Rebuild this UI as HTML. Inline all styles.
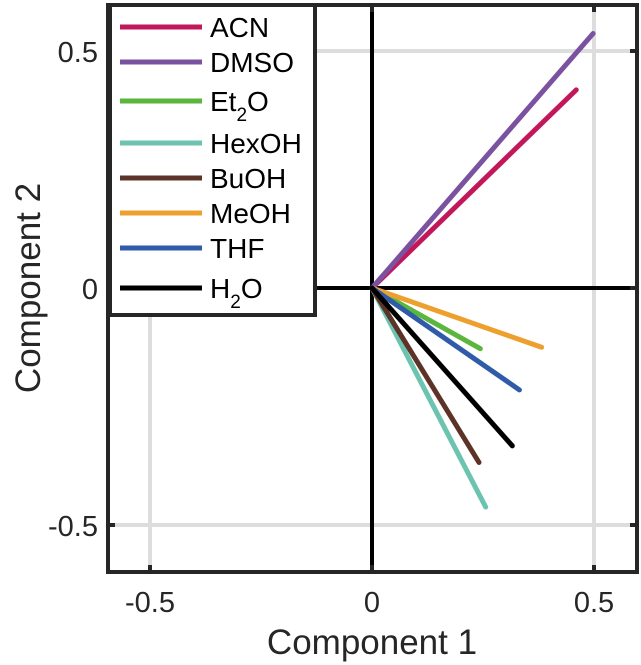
<!DOCTYPE html>
<html><head><meta charset="utf-8"><style>
body{margin:0;background:#fff;}
svg{display:block;font-family:"Liberation Sans",sans-serif;}
</style></head><body>
<svg width="641" height="665">
<script>
const names=["ACN","DMSO","Et2O","HexOH","BuOH","MeOH","THF","H2O"];
const xVals=[0.46,0.498,0.244,0.256,0.241,0.382,0.332,0.316];
const yVals=[0.418,0.537,-0.128,-0.462,-0.368,-0.125,-0.215,-0.333];
const colors=["#c2185b","#7b52a0","#5ab63c","#6cc3b0","#5d3328","#eea02e","#2f5ba8","#000000"];
const xTicks=[-0.5,0,0.5];
const yTicks=[-0.5,0,0.5];
</script>
<g id="plot"></g>
<script>
const NS="http://www.w3.org/2000/svg";
const L=108,R=637,T=5,B=572;
const X=v=>372+v*444;
const Y=v=>288-v*474;
const g=document.getElementById('plot');
function mk(t,a,p){const e=document.createElementNS(NS,t);for(const k in a)e.setAttribute(k,a[k]);(p||g).appendChild(e);return e;}
xTicks.forEach(t=>{if(t!==0){const e=mk('line',{x1:X(t),x2:X(t),y1:T,y2:B,stroke:'#ddd','stroke-width':4});

}});
yTicks.forEach(t=>{if(t!==0){const e=mk('line',{x1:L,x2:R,y1:Y(t),y2:Y(t),stroke:'#ddd','stroke-width':4});

}});
let z=mk('line',{x1:X(0),x2:X(0),y1:T,y2:B,stroke:'#000','stroke-width':4});


z=mk('line',{x1:L,x2:R,y1:Y(0),y2:Y(0),stroke:'#000','stroke-width':4});


names.forEach((n,i)=>{const e=mk('line',{x1:X(0),y1:Y(0),x2:X(xVals[i]),y2:Y(yVals[i]),stroke:colors[i],'stroke-width':5,'stroke-linecap':'round'});

});
let f=mk('rect',{x:L,y:T,width:R-L,height:B-T,fill:'none',stroke:'#262626','stroke-width':4});


xTicks.forEach(t=>{mk('line',{x1:X(t),x2:X(t),y1:B,y2:B-7,stroke:'#262626','stroke-width':4});mk('line',{x1:X(t),x2:X(t),y1:T,y2:T+7,stroke:'#262626','stroke-width':4});
const e=mk('text',{x:X(t),y:612,'font-size':29,'text-anchor':'middle',fill:'#262626'});e.textContent=t===0?'0':String(t);

});
yTicks.forEach(t=>{mk('line',{x1:L,x2:L+7,y1:Y(t),y2:Y(t),stroke:'#262626','stroke-width':4});mk('line',{x1:R,x2:R-7,y1:Y(t),y2:Y(t),stroke:'#262626','stroke-width':4});
const e=mk('text',{x:98,y:Y(t)+11,'font-size':29,'text-anchor':'end',fill:'#262626'});e.textContent=t===0?'0':String(t);

});
const lg=mk('g',{});


mk('rect',{x:110,y:5,width:205,height:310,fill:'#fff',stroke:'#262626','stroke-width':4},lg);
const ly=[27,62,101,143,178,213,248,288];
const parts=[[["ACN"]],[["DMSO"]],[["Et"],["2",1],["O",-1]],[["HexOH"]],[["BuOH"]],[["MeOH"]],[["THF"]],[["H"],["2",1],["O",-1]]];
names.forEach((n,i)=>{const e=mk('g',{},lg);


mk('line',{x1:120,x2:202,y1:ly[i],y2:ly[i],stroke:colors[i],'stroke-width':5},e);
const t=mk('text',{x:210,y:ly[i]+10,'font-size':28,fill:'#000'},e);
parts[i].forEach(p=>{const s=mk('tspan',{},t);if(p[1]===1){s.setAttribute('dy',10);s.setAttribute('font-size',19);}if(p[1]===-1){s.setAttribute('dy',-10);}s.textContent=p[0];});});
</script>
<text x="372" y="654" font-size="35" text-anchor="middle" fill="#262626">Component 1</text>
<text x="0" y="0" font-size="35" text-anchor="middle" fill="#262626" transform="translate(40,288) rotate(-90)">Component 2</text>
</svg>
</body></html>
